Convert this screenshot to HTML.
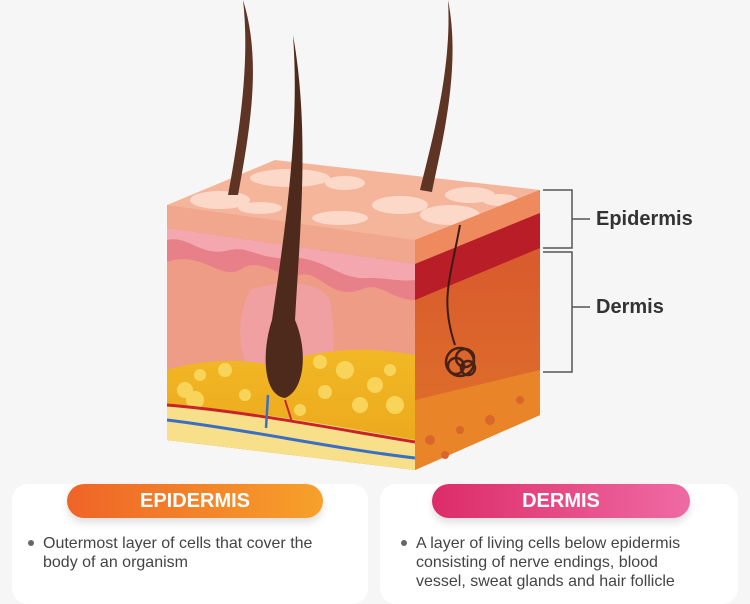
<!DOCTYPE html>
<html><head><style>
body{margin:0;width:750px;height:591px;background:#f6f6f6;overflow:hidden;font-family:"Liberation Sans",sans-serif;position:relative}
.card{position:absolute;top:484px;height:120px;background:#fff;border-radius:16px}
.pill{position:absolute;top:484px;height:34px;border-radius:17px;color:#fff;font-weight:bold;font-size:20px;text-align:center;line-height:34px;box-shadow:0 5px 8px rgba(0,0,0,.12)}
.txt{position:absolute;font-size:16px;color:#444;line-height:19px;white-space:nowrap}
.txt:before{content:"";position:absolute;left:-15px;top:6px;width:6px;height:6px;border-radius:50%;background:#666}
.lbl{position:absolute;font-size:20px;font-weight:bold;color:#333}
</style></head><body>
<svg width="750" height="480" style="position:absolute;left:0;top:0">
<defs>
<linearGradient id="fat" x1="0" y1="0" x2="0" y2="1"><stop offset="0" stop-color="#f2b824"/><stop offset="1" stop-color="#e9a51c"/></linearGradient>
<linearGradient id="rf" x1="0" y1="0" x2="0" y2="1"><stop offset="0" stop-color="#d6532e"/><stop offset="1" stop-color="#e0742a"/></linearGradient>
</defs>
<polygon points="167,205 275,160 540,190 415,240" fill="#f4b59a"/>
<g fill="#fbd8c8">
<ellipse cx="220" cy="200" rx="30" ry="9"/><ellipse cx="290" cy="178" rx="40" ry="9"/><ellipse cx="345" cy="183" rx="20" ry="7"/>
<ellipse cx="400" cy="205" rx="28" ry="9"/><ellipse cx="450" cy="215" rx="30" ry="10"/><ellipse cx="470" cy="195" rx="25" ry="8"/>
<ellipse cx="340" cy="218" rx="28" ry="7"/><ellipse cx="260" cy="208" rx="22" ry="6"/><ellipse cx="500" cy="200" rx="18" ry="6"/></g>
<polygon points="167,205 415,240 415,470 167,440" fill="#ee9c86"/>
<polygon points="167,205 415,240 415,264 167,228" fill="#f0a78e"/>
<path d="M167,228 L415,264 L415,300 C390,300 380,280 360,290 C330,300 320,270 300,275 C280,280 260,255 240,270 C220,280 200,250 167,262Z" fill="#e8808a"/>
<path d="M167,240 C190,235 200,258 230,250 C250,245 260,262 300,258 C330,262 340,280 370,278 C390,278 400,282 415,280 L415,264 L167,228Z" fill="#f5a7b0"/>
<path d="M250,290 C230,330 240,380 280,400 C330,395 340,360 330,300 C320,280 280,280 250,290Z" fill="#f0a0a0"/>
<path d="M167,370 C200,360 240,358 270,365 C320,350 360,345 415,355 L415,470 L167,440Z" fill="url(#fat)"/>
<g fill="#f9d45a"><circle cx="185" cy="390" r="8"/><circle cx="200" cy="375" r="6"/><circle cx="225" cy="370" r="7"/><circle cx="195" cy="400" r="9"/><circle cx="320" cy="362" r="7"/><circle cx="345" cy="370" r="9"/><circle cx="375" cy="385" r="8"/><circle cx="390" cy="370" r="6"/><circle cx="325" cy="392" r="7"/><circle cx="360" cy="405" r="8"/><circle cx="395" cy="405" r="9"/><circle cx="245" cy="395" r="6"/><circle cx="300" cy="410" r="6"/></g>
<path d="M167,405 C250,410 330,425 415,440 L415,470 L167,440Z" fill="#f8e08a"/>
<path d="M167,405 C250,412 330,428 415,442" stroke="#c8232a" stroke-width="3" fill="none"/>
<path d="M167,420 C250,430 330,448 415,458" stroke="#3a6fc4" stroke-width="3" fill="none"/>
<path d="M268,395 L266,428" stroke="#3a6fc4" stroke-width="2.5"/><path d="M285,400 L292,422" stroke="#c8232a" stroke-width="2"/>
<polygon points="415,240 540,190 540,415 415,470" fill="url(#rf)"/>
<polygon points="415,240 540,190 540,213 415,264" fill="#ee8a5e"/>
<polygon points="415,264 540,213 540,248 415,300" fill="#b81d28"/>
<polygon points="415,400 540,370 540,415 415,470" fill="#ea8428"/>
<g fill="#d9662a"><circle cx="430" cy="440" r="5"/><circle cx="460" cy="430" r="4"/><circle cx="490" cy="420" r="5"/><circle cx="520" cy="400" r="4"/><circle cx="445" cy="455" r="4"/></g>
<path d="M243,0 C262,60 250,130 238,195 L228,195 C240,130 250,60 243,0Z" fill="#5e3424"/>
<path d="M448,0 C462,70 440,150 432,192 L420,190 C432,140 452,70 448,0Z" fill="#5e3424"/>
<path d="M293,35 C310,130 300,230 295,320 C308,350 305,390 285,398 C262,395 262,350 272,320 C285,230 300,130 293,35Z" fill="#4e2a1c"/>
<path d="M460,225 C450,280 440,300 455,345" stroke="#3a1d12" stroke-width="2" fill="none"/>
<g fill="none" stroke="#4a2215" stroke-width="2.5"><circle cx="460" cy="362" r="14"/><circle cx="465" cy="358" r="9"/><circle cx="456" cy="366" r="8"/><circle cx="468" cy="368" r="7"/></g>
<g stroke="#555" stroke-width="1.5" fill="none">
<path d="M543,190 H572 V248 H543"/><path d="M572,219 H590"/>
<path d="M543,252 H572 V372 H543"/><path d="M572,307 H590"/></g>
</svg>
<div class="lbl" style="left:596px;top:208px">Epidermis</div>
<div class="lbl" style="left:596px;top:296px">Dermis</div>
<div class="card" style="left:12px;width:356px"></div>
<div class="card" style="left:380px;width:358px"></div>
<div class="pill" style="left:67px;width:256px;background:linear-gradient(90deg,#ef6428,#f7a12a)">EPIDERMIS</div>
<div class="pill" style="left:432px;width:258px;background:linear-gradient(90deg,#dc2c68,#ef6aa4)">DERMIS</div>
<div class="txt" style="left:43px;top:534px">Outermost layer of cells that cover the<br>body of an organism</div>
<div class="txt" style="left:416px;top:534px">A layer of living cells below epidermis<br>consisting of nerve endings, blood<br>vessel, sweat glands and hair follicle</div>
</body></html>
